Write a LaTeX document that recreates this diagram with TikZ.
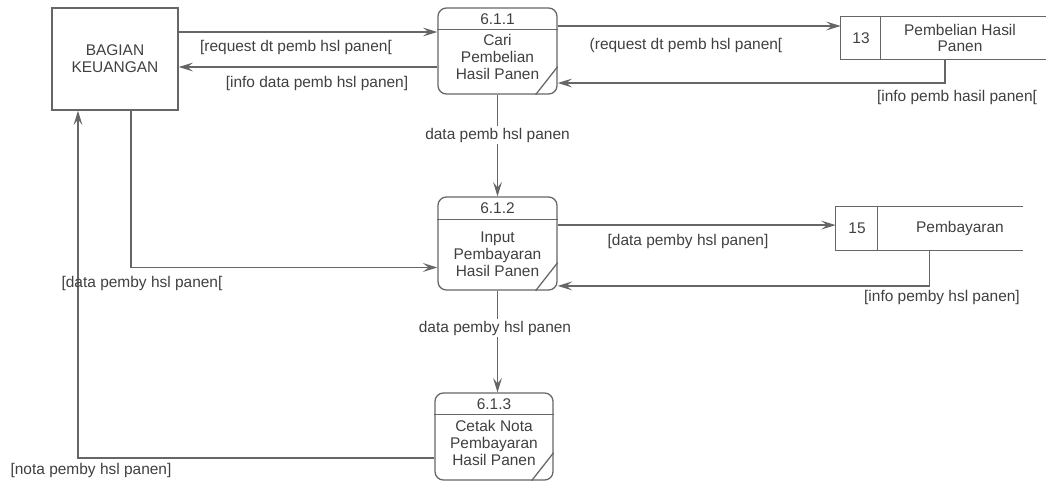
\documentclass[tikz,border=0pt]{standalone}
\usepackage{fontspec}
\setmainfont{Liberation Sans}
\usetikzlibrary{positioning,arrows.meta}

\begin{document}
\begin{tikzpicture}[
  x=0.025cm, y=-0.025cm,
  font=\fontsize{11}{12}\selectfont,
  >={Stealth[length=3.6mm,width=2.2mm,inset=1.4mm]},
  every node/.style={text=black!75},
  entity/.style={rectangle, draw=black!60, line width=0.9pt, minimum width=3.15cm, minimum height=2.55cm, align=center},
  procbox/.style={rectangle, rounded corners=6pt, draw=black!60, line width=0.9pt, minimum width=2.975cm},
  storebox/.style={rectangle, inner sep=0pt},
  storeline/.style={draw=black!60, line width=0.9pt},
  flow/.style={->, draw=black!60, line width=0.9pt},
  flowlabel/.style={inner sep=1pt},
  midlabel/.style={fill=white, inner sep=1.5pt}
]
  \useasboundingbox (0,0) rectangle (1046,481);

  \node[entity] (bk) at (115,59) {BAGIAN\\KEUANGAN};

  \node[procbox, minimum height=2.15cm] (p1) at (497.5,51) {};
  \node (p1n) at (497.5,19) {6.1.1};
  \node[align=center] (p1t) at (497.5,57) {Cari\\Pembelian\\Hasil Panen};
  \draw[storeline] ([yshift=-0.55cm]p1.north west) -- ([yshift=-0.55cm]p1.north east);
  \draw[storeline] ([xshift=-0.55cm]p1.south east) -- ([yshift=0.7cm]p1.south east);

  \node[procbox, minimum height=2.325cm] (p2) at (497.5,243.5) {};
  \node (p2n) at (497.5,208) {6.1.2};
  \node[align=center] (p2t) at (497.5,254) {Input\\Pembayaran\\Hasil Panen};
  \draw[storeline] ([yshift=-0.575cm]p2.north west) -- ([yshift=-0.575cm]p2.north east);
  \draw[storeline] ([xshift=-0.55cm]p2.south east) -- ([yshift=0.7cm]p2.south east);

  \node[procbox, minimum width=2.95cm, minimum height=2.175cm] (p3) at (494,436.5) {};
  \node (p3n) at (494,404) {6.1.3};
  \node[align=center] (p3t) at (494,443) {Cetak Nota\\Pembayaran\\Hasil Panen};
  \draw[storeline] ([yshift=-0.55cm]p3.north west) -- ([yshift=-0.55cm]p3.north east);
  \draw[storeline] ([xshift=-0.55cm]p3.south east) -- ([yshift=0.7cm]p3.south east);

  \node[storebox, minimum width=5.125cm, minimum height=1.05cm] (ds13) at (943.5,38) {};
  \draw[storeline] (ds13.north east) -- (ds13.north west) -- (ds13.south west) -- (ds13.south east);
  \draw[storeline] ([xshift=1cm]ds13.north west) -- ([xshift=1cm]ds13.south west);
  \node (ds13n) at (861,38) {13};
  \node[align=center] (ds13t) at (960,38) {Pembelian Hasil\\Panen};

  \node[storebox, minimum width=4.675cm, minimum height=1.075cm] (ds15) at (929.5,228.5) {};
  \draw[storeline] (ds15.north east) -- (ds15.north west) -- (ds15.south west) -- (ds15.south east);
  \draw[storeline] ([xshift=1.05cm]ds15.north west) -- ([xshift=1.05cm]ds15.south west);
  \node (ds15n) at (857,228.5) {15};
  \node (ds15t) at (960,228.5) {Pembayaran};

  \draw[flow] ([yshift=0.675cm]bk.east) -- ([yshift=0.675cm]bk.east -| p1.west);
  \draw[flow] ([yshift=-0.4cm]p1.west) -- ([yshift=-0.4cm]p1.west -| bk.east);
  \draw[flow] ([yshift=0.625cm]p1.east) -- ([yshift=0.625cm]p1.east -| ds13.west);
  \draw[flow] ([xshift=0.04cm]ds13.south) |- ([yshift=-0.8cm]p1.east);
  \draw[flow] (p1.south) -- (p2.north);
  \draw[flow] ([xshift=0.4cm]bk.south) |- ([yshift=-0.6cm]p2.west);
  \draw[flow] ([yshift=0.46cm]p2.east) -- ([yshift=0.46cm]p2.east -| ds15.west);
  \draw[flow] (ds15.south) |- ([yshift=-1.06cm]p2.east);
  \draw[flow] (p2.south) -- (p2.south |- p3.north);
  \draw[flow] ([yshift=-0.54cm]p3.west) -| ([xshift=-0.925cm]bk.south);

  \node[flowlabel] (l1) at (296,47) {[request dt pemb hsl panen[};
  \node[flowlabel] (l2) at (317,83) {[info data pemb hsl panen]};
  \node[flowlabel] (l3) at (686,45) {(request dt pemb hsl panen[};
  \node[flowlabel] (l4) at (957,97) {[info pemb hasil panen[};
  \node[midlabel] (l5) at (497.5,135) {data pemb hsl panen};
  \node[flowlabel] (l6) at (142,283) {[data pemby hsl panen[};
  \node[flowlabel] (l7) at (688,241) {[data pemby hsl panen]};
  \node[flowlabel] (l8) at (942,297) {[info pemby hsl panen]};
  \node[midlabel] (l9) at (495,328) {data pemby hsl panen};
  \node[flowlabel] (l10) at (91,470) {[nota pemby hsl panen]};
\end{tikzpicture}
\end{document}
